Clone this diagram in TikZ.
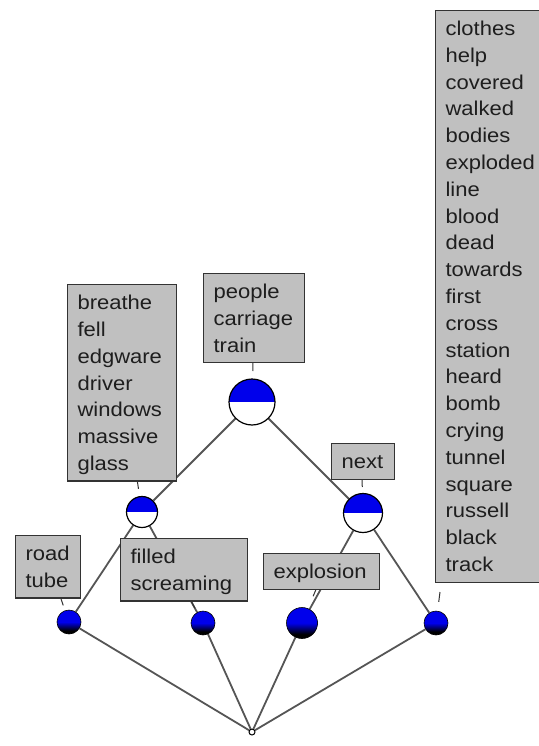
\documentclass[tikz,border=0pt]{standalone}
\usepackage{fontspec}
\usetikzlibrary{backgrounds}
\newfontfamily\lblfont{Liberation Sans}[FakeStretch=1.1]
\hyphenpenalty=10000
\exhyphenpenalty=10000
\definecolor{boxgray}{RGB}{192,192,192}
\definecolor{edgegray}{RGB}{85,85,85}
\definecolor{txtcol}{RGB}{30,30,30}
\definecolor{ballblue}{RGB}{0,0,235}
\pgfdeclareverticalshading{ballshade}{100bp}{color(0bp)=(black); color(32bp)=(black); color(50bp)=(ballblue); color(100bp)=(ballblue)}
\newcommand{\ms}{\rule[-5.5pt]{0pt}{25.5pt}}
\tikzset{
  lbl/.style={draw=black!80, line width=1.2pt, fill=boxgray, anchor=north west,
    inner xsep=10pt, inner ysep=5pt, align=left,
    font=\lblfont\fontsize{20}{26.8}\selectfont, text=txtcol},
  half/.style={circle, draw=black, line width=1.2pt, fill=white, inner sep=0pt,
    minimum size=#1,
    path picture={\fill[ballblue] (path picture bounding box.north west) rectangle (path picture bounding box.east);}},
  ball/.style={circle, draw=black, line width=0.6pt, inner sep=0pt, minimum size=#1,
    shading=ballshade},
  edgeline/.style={draw=edgegray, line width=1.8pt},
  conn/.style={draw=black!80, line width=1pt, dash pattern=on 10pt off 30pt},
}
\begin{document}
\begin{tikzpicture}[x=1pt,y=-1pt]
\useasboundingbox (0,0) rectangle (538,746);
% lattice nodes
\node[half=46] (top) at (252,402) {};
\node[half=31] (lmid) at (142,512) {};
\node[half=39] (rmid) at (363,513) {};
\node[ball=24] (n1) at (69,622) {};
\node[ball=24] (n2) at (203,623) {};
\node[ball=31] (n3) at (302,623) {};
\node[ball=24] (n4) at (436,623) {};
\node[circle, draw=black, fill=white, line width=1pt, inner sep=0pt, minimum size=6] (bot) at (252,732) {};
% label connector starts
\coordinate (pc) at (253,361);
\coordinate (bc) at (137,479);
\coordinate (nc) at (362,477);
\coordinate (rc) at (60,596);
\coordinate (fc) at (190,599);
\coordinate (ec) at (317,587);
\coordinate (cc) at (440,592);
% edges and connectors behind
\begin{scope}[on background layer]
\draw[edgeline] (top) -- (lmid);
\draw[edgeline] (top) -- (rmid);
\draw[edgeline] (lmid) -- (n1);
\draw[edgeline] (lmid) -- (n2);
\draw[edgeline] (rmid) -- (n3);
\draw[edgeline] (rmid) -- (n4);
\draw[edgeline] (n1) -- (bot);
\draw[edgeline] (n2) -- (bot);
\draw[edgeline] (n3) -- (bot);
\draw[edgeline] (n4) -- (bot);
\draw[conn] (pc) -- (top);
\draw[conn] (bc) -- (lmid);
\draw[conn] (nc) -- (rmid);
\draw[conn] (rc) -- (n1);
\draw[conn] (fc) -- (n2);
\draw[conn] (ec) -- (n3);
\draw[conn] (cc) -- (n4);
\end{scope}
% labels
\node[lbl, text width=81pt] (pbox) at (203,273) {\ms people\\\ms carriage\\\ms train};
\node[lbl, text width=89pt] (bbox) at (67,284) {\ms breathe\\\ms fell\\\ms edgware\\\ms driver\\\ms windows\\\ms massive\\\ms glass};
\node[lbl, text width=43pt] (nbox) at (331,443) {\ms next};
\node[lbl, text width=96pt] (ebox) at (263,553) {\ms explosion};
\node[lbl, text width=45pt] (rbox) at (15,535) {\ms road\\\ms tube};
\node[lbl, text width=107pt] (fbox) at (120,538) {\ms filled\\\ms screaming};
\node[lbl, text width=100pt] (cbox) at (435,10) {\ms clothes\\\ms help\\\ms covered\\\ms walked\\\ms bodies\\\ms exploded\\\ms line\\\ms blood\\\ms dead\\\ms towards\\\ms first\\\ms cross\\\ms station\\\ms heard\\\ms bomb\\\ms crying\\\ms tunnel\\\ms square\\\ms russell\\\ms black\\\ms track};
\end{tikzpicture}
\end{document}
